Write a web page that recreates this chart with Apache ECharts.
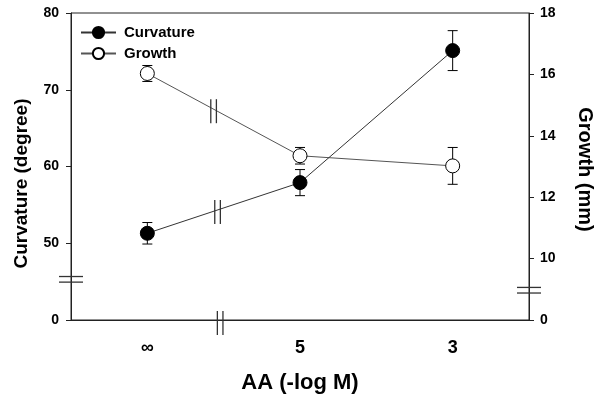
<!DOCTYPE html>
<html>
<head>
<meta charset="utf-8">
<script src="https://cdn.jsdelivr.net/npm/echarts@6/dist/echarts.min.js"></script>
<style>
html,body{margin:0;padding:0;background:#fff;overflow:hidden;}
#chart{width:594px;height:398px;}
</style>
</head>
<body>
<div id="chart"></div>
<script>
// ---- data ----
const categories = ['\u221E', '5', '3'];
const curvature = [51.3, 57.9, 75.1];
const curvatureErr = [1.4, 1.7, 2.6];
const growth = [16.03, 13.35, 13.02];
const growthErr = [0.26, 0.27, 0.6];
// axis breaks: the lowest shown tick stands for 0
const leftAxisMin = 40, leftAxisMax = 80, leftAxisStep = 10;
const rightAxisMin = 8, rightAxisMax = 18, rightAxisStep = 2;
const leftBreakLabel = '0';
const rightBreakLabel = '0';

const FONT = '"Liberation Sans", Arial, sans-serif';
const chart = echarts.init(document.getElementById('chart'), null, {renderer: 'canvas'});

function errData(vals, errs) {
  return vals.map((v, i) => [i, v - errs[i], v + errs[i]]);
}
function errRender(params, api) {
  const x = api.value(0);
  const lo = api.coord([x, api.value(1)]);
  const hi = api.coord([x, api.value(2)]);
  const w = 5;
  const st = {stroke: '#000', lineWidth: 1};
  return {
    type: 'group',
    children: [
      {type: 'line', shape: {x1: lo[0], y1: lo[1], x2: hi[0], y2: hi[1]}, style: st},
      {type: 'line', shape: {x1: lo[0] - w, y1: lo[1], x2: lo[0] + w, y2: lo[1]}, style: st},
      {type: 'line', shape: {x1: hi[0] - w, y1: hi[1], x2: hi[0] + w, y2: hi[1]}, style: st}
    ]
  };
}

const option = {
  animation: false,
  backgroundColor: '#fff',
  grid: {left: 71, right: 65, top: 13, bottom: 78, show: true, borderColor: '#222', borderWidth: 1,
    containLabel: false, outerBoundsMode: 'none'},
  legend: {
    left: 80, top: 25, padding: 0, orient: 'vertical', itemWidth: 35, itemHeight: 14, itemGap: 6,
    textStyle: {fontFamily: FONT, fontWeight: 'bold', fontSize: 15, color: '#000', padding: [0, 0, 0, 3]},
    data: ['Curvature', 'Growth']
  },
  xAxis: {
    type: 'category', data: categories, boundaryGap: true,
    name: 'AA (-log M)', nameLocation: 'middle', nameGap: 52,
    nameTextStyle: {fontFamily: FONT, fontWeight: 'bold', fontSize: 22, color: '#000'},
    axisLine: {lineStyle: {color: '#222', width: 1}},
    axisTick: {alignWithLabel: true, length: 5, lineStyle: {color: '#222'}},
    axisLabel: {fontFamily: FONT, fontWeight: 'bold', fontSize: 18, color: '#000', margin: 19},
    splitLine: {show: false}
  },
  yAxis: [
    {
      type: 'value', position: 'left', min: leftAxisMin, max: leftAxisMax, interval: leftAxisStep,
      name: 'Curvature (degree)', nameLocation: 'middle', nameGap: 40,
      nameTextStyle: {fontFamily: FONT, fontWeight: 'bold', fontSize: 19, color: '#000', padding: [0, 34, 0, 0]},
      axisLine: {show: true, lineStyle: {color: '#222', width: 1}},
      axisTick: {show: true, length: 5, lineStyle: {color: '#222'}},
      axisLabel: {fontFamily: FONT, fontWeight: 'bold', fontSize: 14, color: '#000', margin: 12,
        formatter: v => v === leftAxisMin ? leftBreakLabel : String(v)},
      splitLine: {show: false}
    },
    {
      type: 'value', position: 'right', min: rightAxisMin, max: rightAxisMax, interval: rightAxisStep,
      name: 'Growth (mm)', nameLocation: 'middle', nameGap: 46, nameRotate: -90,
      nameTextStyle: {fontFamily: FONT, fontWeight: 'bold', fontSize: 20, color: '#000', padding: [0, 0, 0, 6]},
      axisLine: {show: true, lineStyle: {color: '#222', width: 1}},
      axisTick: {show: true, length: 5, lineStyle: {color: '#222'}},
      axisLabel: {fontFamily: FONT, fontWeight: 'bold', fontSize: 14, color: '#000', margin: 11,
        formatter: v => v === rightAxisMin ? rightBreakLabel : String(v)},
      splitLine: {show: false}
    }
  ],
  series: [
    {
      name: 'Growth', type: 'line', yAxisIndex: 1, data: growth,
      symbol: 'circle', symbolSize: 14,
      lineStyle: {color: '#555', width: 1},
      itemStyle: {color: '#fff', borderColor: '#000', borderWidth: 1},
      z: 3
    },
    {
      name: 'growthErr', type: 'custom', yAxisIndex: 1, renderItem: errRender,
      data: errData(growth, growthErr), z: 2
    },
    {
      name: 'Curvature', type: 'line', yAxisIndex: 0, data: curvature,
      symbol: 'circle', symbolSize: 14,
      lineStyle: {color: '#333', width: 1},
      itemStyle: {color: '#000', borderColor: '#000', borderWidth: 1},
      z: 3
    },
    {
      name: 'curvErr', type: 'custom', yAxisIndex: 0, renderItem: errRender,
      data: errData(curvature, curvatureErr), z: 2
    }
  ]
};
chart.setOption(option);

// break marks ("//") placed through the library's coordinate conversion
function px(axisIdx, xIdx, v) {
  return chart.convertToPixel({xAxisIndex: 0, yAxisIndex: axisIdx}, [xIdx, v]);
}
function lineBreak(vals, axisIdx, frac) {
  const a = px(axisIdx, 0, vals[0]);
  const b = px(axisIdx, 1, vals[1]);
  return [a[0] + (b[0] - a[0]) * frac, a[1] + (b[1] - a[1]) * frac];
}
const st = {stroke: '#333', lineWidth: 1.3};
const g = [];
function vPair(cx, cy, up, down) {
  [-2.8, 2.8].forEach(d => g.push({type: 'line', shape: {x1: cx + d, y1: cy - up, x2: cx + d, y2: cy + down}, style: st, z: 10}));
}
function hPair(cx, cy, half) {
  [-2.8, 2.8].forEach(d => g.push({type: 'line', shape: {x1: cx - half, y1: cy + d, x2: cx + half, y2: cy + d}, style: st, z: 10}));
}
const gp = lineBreak(growth, 1, 0.434);
vPair(gp[0], gp[1], 10, 14);
const cp = lineBreak(curvature, 0, 0.46);
vPair(cp[0], cp[1], 10, 14);
const x0 = px(0, 0, leftAxisMin), x1 = px(0, 1, leftAxisMin);
vPair(x0[0] + (x1[0] - x0[0]) * 0.477, x0[1], 9, 15);
const rect = chart.getModel().getComponent('grid').coordinateSystem.getRect();
const lb = px(0, 0, 45.3);
hPair(rect.x, lb[1], 12);
const rb = px(1, 0, 8.97);
hPair(rect.x + rect.width, rb[1], 12);
chart.setOption({graphic: g});
</script>
</body>
</html>
